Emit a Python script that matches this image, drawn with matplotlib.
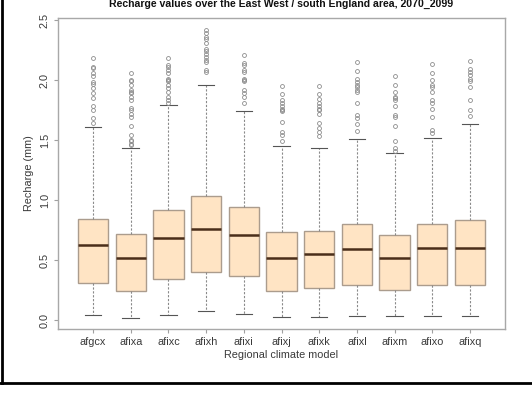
import matplotlib
matplotlib.use("Agg")
import matplotlib.pyplot as plt
from matplotlib.lines import Line2D

plt.rcParams['font.family'] = ['Liberation Sans', 'DejaVu Sans']

models = ["afgcx", "afixa", "afixc", "afixh", "afixi", "afixj",
          "afixk", "afixl", "afixm", "afixo", "afixq"]

q1 = [0.31, 0.24, 0.34, 0.40, 0.365, 0.245, 0.265, 0.29, 0.25, 0.29, 0.29]
medians = [0.625, 0.52, 0.685, 0.755, 0.71, 0.52, 0.553, 0.59, 0.52, 0.60, 0.60]
q3 = [0.84, 0.72, 0.92, 1.035, 0.94, 0.73, 0.74, 0.80, 0.71, 0.80, 0.83]
whisker_low = [0.04, 0.02, 0.04, 0.075, 0.047, 0.022, 0.022, 0.033, 0.03, 0.033, 0.03]
whisker_high = [1.61, 1.43, 1.79, 1.96, 1.74, 1.45, 1.43, 1.505, 1.39, 1.52, 1.63]

outliers = [
    [2.18, 2.11, 2.10, 2.06, 2.03, 1.98, 1.97, 1.93, 1.89, 1.85, 1.78, 1.75, 1.68, 1.64],
    [2.06, 2.00, 1.99, 1.96, 1.92, 1.90, 1.89, 1.86, 1.83, 1.77, 1.75, 1.72, 1.69,
     1.62, 1.54, 1.50, 1.49, 1.47, 1.46],
    [2.18, 2.125, 2.11, 2.08, 2.06, 2.01, 2.00, 1.99, 1.96, 1.93, 1.90, 1.86, 1.83, 1.81],
    [2.42, 2.39, 2.36, 2.34, 2.31, 2.26, 2.24, 2.22, 2.19, 2.17, 2.15, 2.08, 2.07],
    [2.21, 2.14, 2.125, 2.08, 2.07, 2.01, 2.00, 1.99, 1.92, 1.89, 1.86, 1.81],
    [1.95, 1.88, 1.83, 1.81, 1.78, 1.76, 1.75, 1.74, 1.65, 1.57, 1.54, 1.49],
    [1.95, 1.88, 1.84, 1.81, 1.78, 1.76, 1.75, 1.72, 1.64, 1.60, 1.57, 1.53],
    [2.15, 2.075, 2.01, 1.98, 1.96, 1.94, 1.92, 1.90, 1.81, 1.71, 1.68, 1.63, 1.575],
    [2.03, 1.96, 1.90, 1.86, 1.85, 1.83, 1.78, 1.71, 1.69, 1.62, 1.49, 1.43, 1.41],
    [2.13, 2.06, 2.00, 1.96, 1.94, 1.90, 1.83, 1.81, 1.76, 1.69, 1.58, 1.56],
    [2.155, 2.09, 2.07, 2.04, 2.005, 1.99, 1.94, 1.83, 1.75, 1.70],
]

yticks = [0.0, 0.5, 1.0, 1.5, 2.0, 2.5]
ytick_labels = ["0.0", "0.5", "1.0", "1.5", "2.0", "2.5"]

stats = []
for i, name in enumerate(models):
    stats.append(dict(label=name, med=medians[i], q1=q1[i], q3=q3[i],
                      whislo=whisker_low[i], whishi=whisker_high[i],
                      fliers=outliers[i]))

fig = plt.figure(figsize=(5.32, 3.94), dpi=100)
ax = fig.add_axes([58 / 532, 1 - 329 / 394, (505 - 58) / 532, (329 - 18) / 394])

grey_edge = "#ab9c8d"
ax.bxp(stats, positions=range(1, len(models) + 1), widths=0.8, capwidths=0.44,
       patch_artist=True,
       boxprops=dict(facecolor="#ffe4c4", edgecolor=grey_edge, linewidth=1.0),
       medianprops=dict(color="#4a2e1a", linewidth=1.8),
       whiskerprops=dict(color="#8a8a8a", linewidth=0.8, linestyle=(0, (2, 1.5))),
       capprops=dict(color="#555555", linewidth=0.8),
       flierprops=dict(marker="o", markersize=2.8, markerfacecolor="none",
                       markeredgecolor="#8c8c8c", markeredgewidth=0.6))

ax.set_xlim(0.07, 11.93)
ax.set_ylim(-0.075, 2.517)
ax.set_yticks(yticks)
ax.set_yticklabels(ytick_labels, rotation=90, va="center")
ax.set_xticks(range(1, len(models) + 1))
ax.set_xticklabels(models)

for s in ax.spines.values():
    s.set_color("#a8a8a8")
    s.set_linewidth(1.0)
ax.tick_params(axis="both", colors="#a0a0a0", length=3, width=0.8,
               labelsize=7.8, labelcolor="#3a3a3a")
ax.tick_params(axis="x", pad=3)
ax.tick_params(axis="y", pad=3)

ax.set_xlabel("Regional climate model", fontsize=7.8, color="#3a3a3a", labelpad=2)
ax.set_ylabel("Recharge (mm)", fontsize=7.8, color="#3a3a3a", labelpad=4)

fig.text((58 + 505) / 2 / 532, 1 - 4 / 394,
         "Recharge values over the East West / south England area, 2070_2099",
         ha="center", va="center", fontsize=7.6, fontweight="bold", color="#111111")

# frame lines on the left and bottom of the figure
fig.add_artist(Line2D([1.5 / 532, 1.5 / 532], [1 - 383 / 394, 1.0],
                      transform=fig.transFigure, color="black", linewidth=2.0))
fig.add_artist(Line2D([0, 1], [1 - 383 / 394, 1 - 383 / 394],
                      transform=fig.transFigure, color="black", linewidth=2.0))

fig.savefig("out.png", dpi=100)
